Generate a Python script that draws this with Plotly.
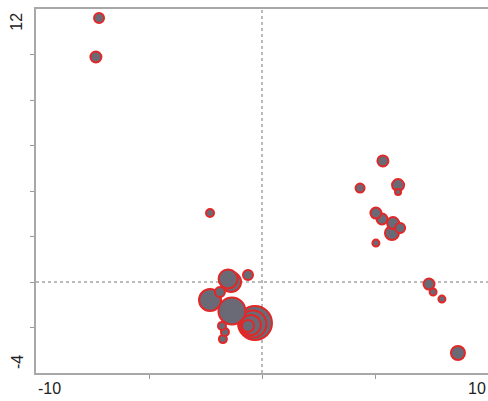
import numpy as np
import plotly.graph_objects as go

# Data (x, y, bubble size)
x_vals = [-7.21, -7.35, -2.30, 5.35, 4.34, 6.02, 6.02, 5.04, 5.31, 5.80, 6.11, 5.75, 5.04,
          7.39, 7.57, 7.96, 8.67,
          -1.50, -1.37, -0.62, -2.30, -1.86, -1.33,
          -0.62, -0.49, -0.40, -0.31,
          -1.77, -1.64, -1.73]
y_vals = [11.60, 9.89, 3.03, 5.32, 4.13, 4.26, 3.96, 3.03, 2.77, 2.59, 2.37, 2.15, 1.71,
          -0.09, -0.44, -0.75, -3.12,
          0.13, 0.00, 0.31, -0.79, -0.44, -1.27,
          -1.93, -1.89, -1.85, -1.80,
          -1.93, -2.20, -2.51]
sizes = [10, 11, 8, 11, 9, 12, 6, 11, 11, 12, 10, 14, 7,
         11, 7, 7, 14,
         19, 20, 10, 22, 10, 27,
         12, 20, 27, 34,
         8, 8, 8]

x_tick_labels = ["-10", "10"]
y_tick_labels = ["12", "-4"]

order = np.argsort(sizes, kind="stable")[::-1]
xs = np.array(x_vals)[order]
ys = np.array(y_vals)[order]
ss = np.array(sizes)[order]

fig = go.Figure()
fig.add_trace(go.Scatter(
    x=xs, y=ys, mode="markers",
    marker=dict(size=ss, color="rgb(106,106,118)", opacity=1,
                line=dict(color="rgb(225,40,40)", width=2)),
    hoverinfo="skip", showlegend=False,
))

fig.update_layout(
    width=488, height=401,
    margin=dict(l=36, r=0, t=9, b=28),
    paper_bgcolor="white", plot_bgcolor="white",
    font=dict(family="Liberation Sans, Arial, sans-serif", size=16, color="#222"),
    shapes=[
        dict(type="line", xref="x", yref="paper", x0=0, x1=0, y0=0, y1=1,
             line=dict(color="#777", width=1, dash="3px,3px"), layer="below"),
        dict(type="line", xref="paper", yref="y", x0=0, x1=1, y0=0, y1=0,
             line=dict(color="#777", width=1, dash="3px,3px"), layer="below"),
    ],
)
fig.update_xaxes(range=[-10, 10], showgrid=False, zeroline=False,
                 showline=True, linecolor="#a8a8a8", linewidth=2, mirror=True,
                 ticks="outside", ticklen=4, tickcolor="#999", tickwidth=1,
                 tickvals=[-5, 0, 5], showticklabels=False)
fig.update_yaxes(range=[-4, 12], showgrid=False, zeroline=False,
                 showline=True, linecolor="#a8a8a8", linewidth=2,
                 ticks="outside", ticklen=4, tickcolor="#999", tickwidth=1,
                 tickvals=[-2, 0, 2, 4, 6, 8, 10], showticklabels=False)

ann = dict(xref="paper", yref="paper", showarrow=False, font=dict(size=16, color="#222"))
fig.add_annotation(text=x_tick_labels[0], x=0, y=-0.015, xanchor="left", yanchor="top", **ann)
fig.add_annotation(text=x_tick_labels[1], x=1, y=-0.015, xanchor="right", yanchor="top", **ann)
fig.add_annotation(text=y_tick_labels[0], x=-0.042, y=0.965, xanchor="center", yanchor="middle",
                   textangle=-90, **ann)
fig.add_annotation(text=y_tick_labels[1], x=-0.042, y=0.030, xanchor="center", yanchor="middle",
                   textangle=-90, **ann)

fig.write_html("out.html")
